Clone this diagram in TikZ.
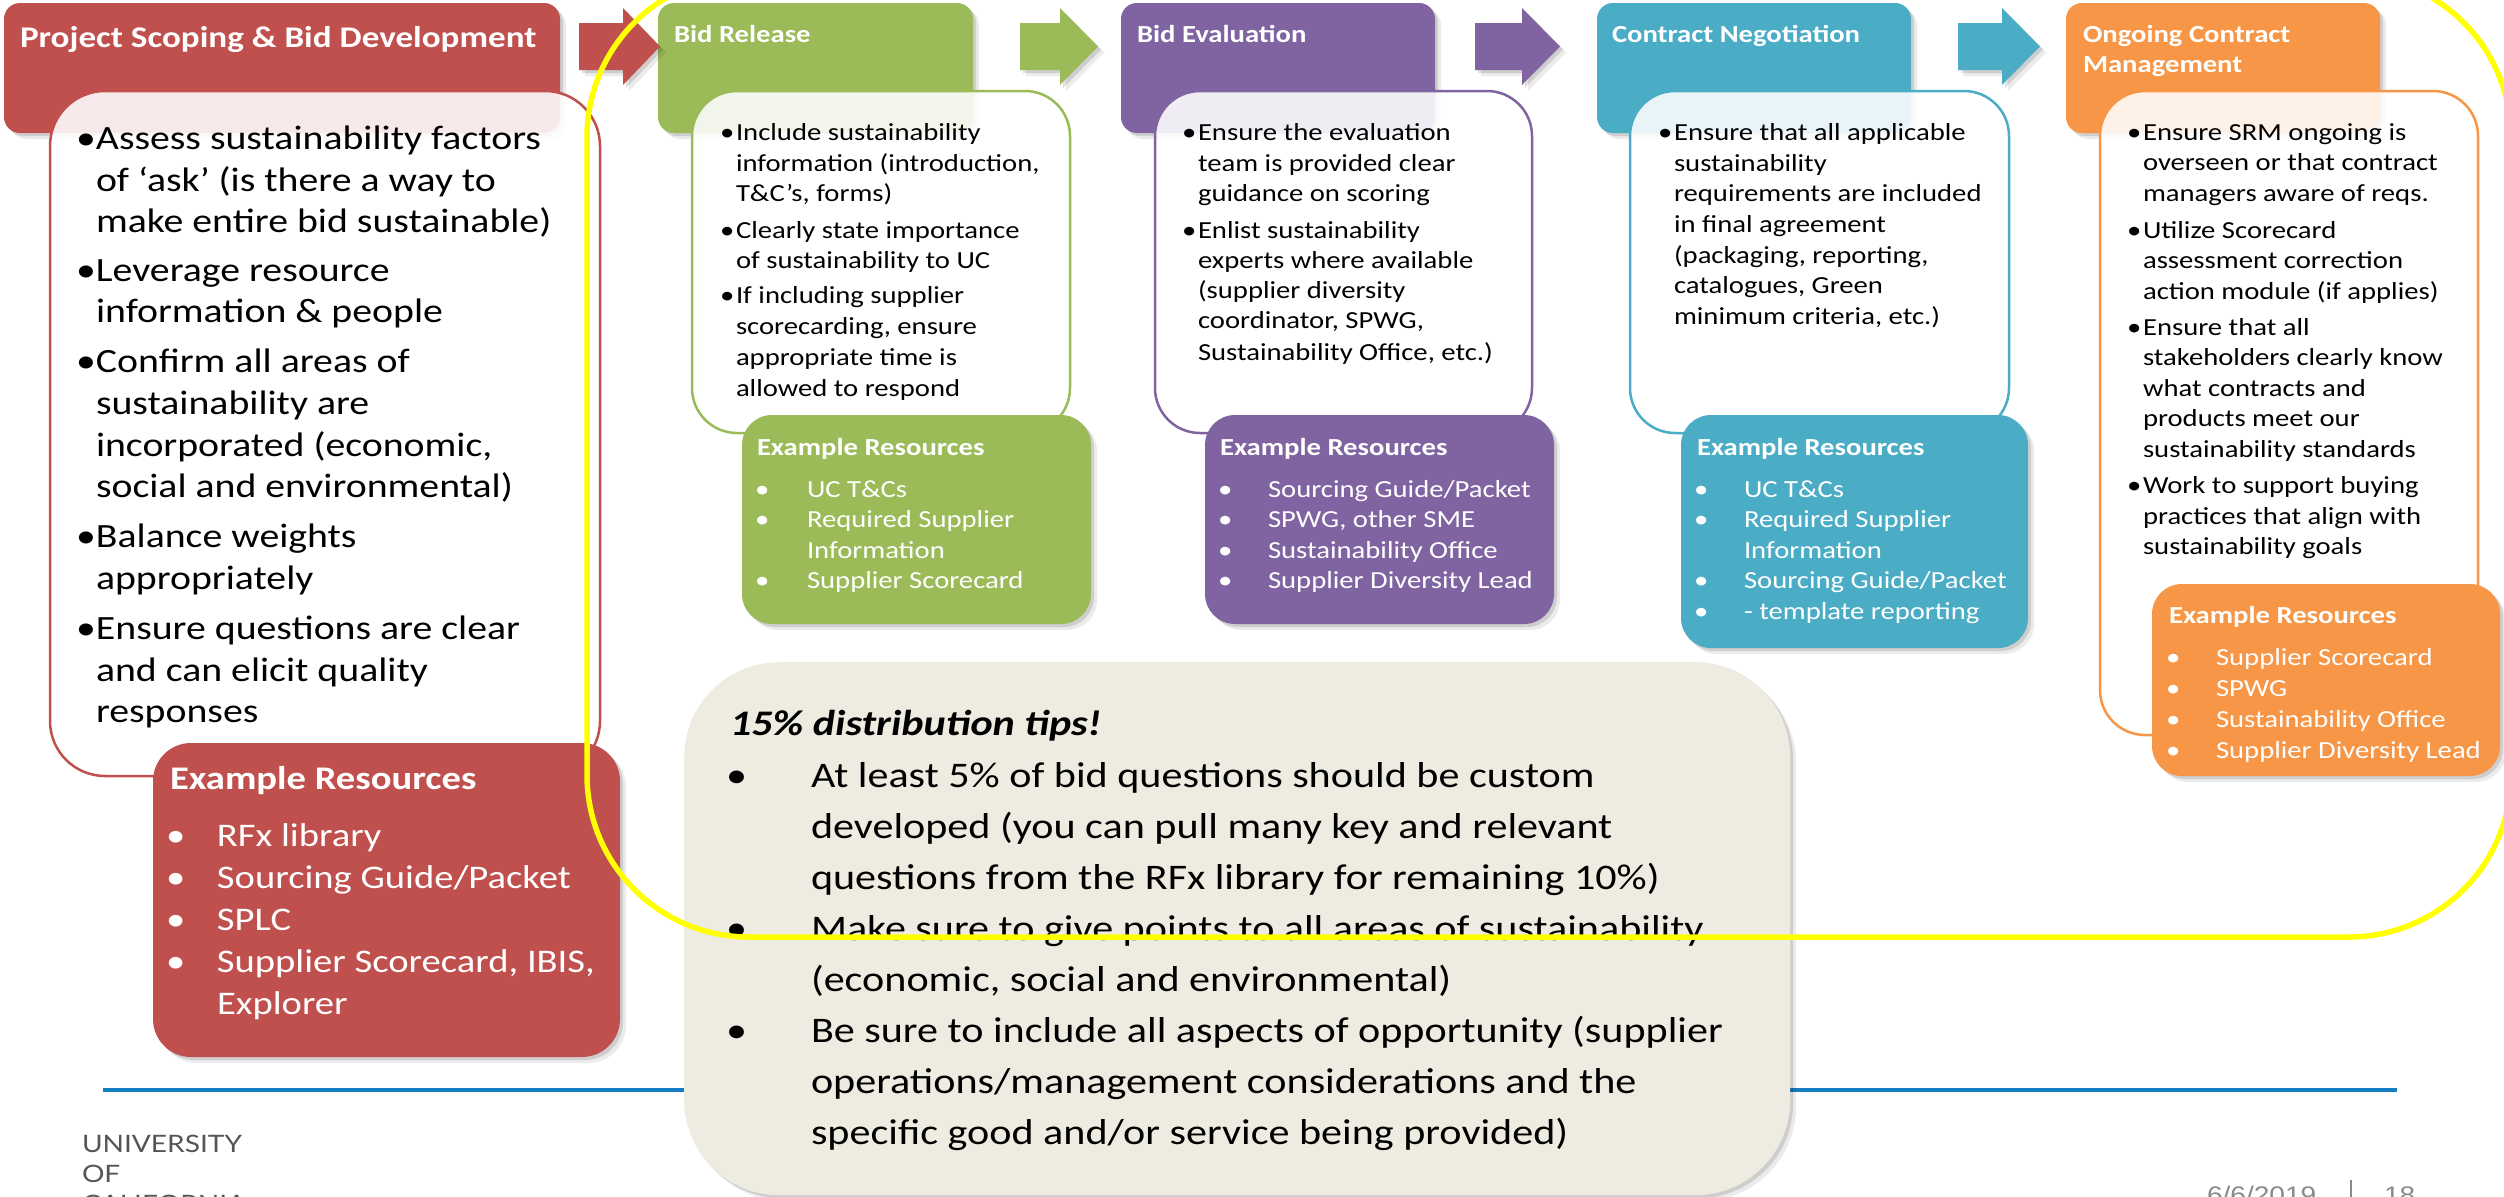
\documentclass[tikz,border=0pt]{standalone}
\usepackage{fontspec}
\setmainfont{Carlito}[FakeStretch=1.17]
\newfontfamily\latof{Lato}[FakeStretch=1.17]
\newfontfamily\arialf{Liberation Sans}[FakeStretch=1.17]
\definecolor{redc}{HTML}{C0504D}
\definecolor{grnc}{HTML}{9BBB59}
\definecolor{purc}{HTML}{8064A2}
\definecolor{tealc}{HTML}{4BACC6}
\definecolor{orgc}{HTML}{F79646}
\definecolor{beigec}{HTML}{EEECE1}
\definecolor{bluec}{HTML}{157DC4}
\definecolor{yelc}{HTML}{FFFF00}
\definecolor{footc}{HTML}{555555}
\definecolor{datec}{HTML}{8A8A8A}
\newlength\bw
\newcommand\Bl{\makebox[\bw][l]{•}}
\newcommand\Ct{\hspace*{\bw}}
\newcommand\fbig{\fontsize{34}{41}\selectfont}
\newcommand\fsm{\fontsize{24.5}{30.5}\selectfont}
\newcommand\fres{\fontsize{33}{42}\selectfont}
\newcommand\ftip{\fontsize{36}{51}\selectfont}
\newcommand\fhdr{\fontsize{30}{36}\selectfont\bfseries}
\newcommand\fhs{\fontsize{24.5}{30}\selectfont\bfseries}
\newcommand\bx[6]{\node[#2, minimum width={(#5)-(#3)}, minimum height={(#6)-(#4)}] (#1) at (#3,#4) {};}
\newcommand\tblock[5]{\global\bw=#4\relax\foreach[count=\k] \yy/\tx in {#5}{\node[txt,font=#3] (#1\k) at (#2,\yy) {\tx};}}
\begin{document}
\begin{tikzpicture}[x=1pt,y=-1pt,
  txt/.style={anchor=base west, inner sep=0pt, outer sep=0pt},
  softshadow/.style={preaction={fill=black,fill opacity=0.12,transform canvas={xshift=3pt,yshift=-3pt}},
                     preaction={fill=black,fill opacity=0.08,transform canvas={xshift=6pt,yshift=-6pt}}},
  hdr/.style={fill=#1, draw=none, rounded corners=16pt, softshadow, anchor=north west, inner sep=0pt, outer sep=0pt},
  cbox/.style={draw=#1, line width=2.5pt, fill=white, fill opacity=0.88, rounded corners=45pt, anchor=north west, inner sep=0pt, outer sep=0pt},
  rbox/.style={fill=#1, draw=none, rounded corners=30pt, softshadow, anchor=north west, inner sep=0pt, outer sep=0pt},
  arr/.style={fill=#1, softshadow}]
\useasboundingbox (0,0) rectangle (2504,1197);
\clip (0,0) rectangle (2504,1197);
\fill[white] (0,0) rectangle (2504,1197);

% headers
\bx{h1}{hdr=redc}{4}{3}{560}{133}
\bx{h2}{hdr=grnc}{658}{3}{973}{133}
\bx{h3}{hdr=purc}{1121}{3}{1435}{133}
\bx{h4}{hdr=tealc}{1597}{3}{1911}{133}
\bx{h5}{hdr=orgc}{2066}{3}{2380}{133}

% block arrows
\fill[arr=redc] (579,23) -- (623,23) -- (623,8) -- (660,46.5) -- (623,85) -- (623,70) -- (579,70) -- cycle;
\fill[arr=grnc] (1020,23) -- (1060,23) -- (1060,8) -- (1098,46.5) -- (1060,85) -- (1060,70) -- (1020,70) -- cycle;
\fill[arr=purc] (1475,23) -- (1522,23) -- (1522,8) -- (1560,46.5) -- (1522,85) -- (1522,70) -- (1475,70) -- cycle;
\fill[arr=tealc] (1958,23) -- (2002,23) -- (2002,8) -- (2040,46.5) -- (2002,85) -- (2002,70) -- (1958,70) -- cycle;

% header titles
\node[txt,font=\fhdr,text=white] (t1) at (20,47) {Project Scoping \& Bid Development};
\node[txt,font=\fhs,text=white] (t2) at (674,42) {Bid Release};
\node[txt,font=\fhs,text=white] (t3) at (1137,42) {Bid Evaluation};
\node[txt,font=\fhs,text=white] (t4) at (1612,42) {Contract Negotiation};
\node[txt,font=\fhs,text=white] (t5) at (2083,42) {Ongoing Contract};
\node[txt,font=\fhs,text=white] (t5b) at (2083,72) {Management};

% content boxes
\bx{c1}{cbox=redc,rounded corners=55pt}{50}{91}{600}{776}
\bx{c2}{cbox=grnc}{692}{91}{1070}{433}
\bx{c3}{cbox=purc}{1155}{91}{1532}{433}
\bx{c4}{cbox=tealc}{1630}{91}{2009}{433}
\bx{c5}{cbox=orgc}{2100}{91}{2478}{735}

% resource boxes
\bx{r1}{rbox=redc,rounded corners=38pt}{153}{743}{620}{1057}
\bx{r2}{rbox=grnc}{742}{415}{1091}{624}
\bx{r3}{rbox=purc}{1205}{415}{1554}{624}
\bx{r4}{rbox=tealc}{1681}{415}{2028}{648}
\bx{r5}{rbox=orgc}{2152}{584}{2500}{776}

% blue rule
\coordinate (bl1) at (103,1090);
\coordinate (bl2) at (2397,1090);
\draw[bluec, line width=4pt] (bl1) -- (bl2);

% tips box
\bx{tips}{fill=beigec, draw=none, rounded corners=95pt, softshadow, anchor=north west, inner sep=0pt}{684}{662}{1790}{1195}

% content texts
\tblock{ca}{76}{\fbig}{20pt}{
149/{\Bl Assess sustainability factors},
191/{\Ct of ‘ask’ (is there a way to},
232/{\Ct make entire bid sustainable)},
281/{\Bl Leverage resource},
322/{\Ct information \& people},
372/{\Bl Confirm all areas of},
414/{\Ct sustainability are},
456/{\Ct incorporated (economic,},
497/{\Ct social and environmental)},
547/{\Bl Balance weights},
589/{\Ct appropriately},
639/{\Bl Ensure questions are clear},
681/{\Ct and can elicit quality},
722/{\Ct responses}}

\tblock{cb}{720}{\fsm}{16pt}{
140/{\Bl Include sustainability},
171/{\Ct information (introduction,},
201/{\Ct T\&C’s, forms)},
238.5/{\Bl Clearly state importance},
268.5/{\Ct of sustainability to UC},
303.5/{\Bl If including supplier},
334.5/{\Ct scorecarding, ensure},
365/{\Ct appropriate time is},
396/{\Ct allowed to respond}}

\tblock{cc}{1182}{\fsm}{16pt}{
140/{\Bl Ensure the evaluation},
171/{\Ct team is provided clear},
201/{\Ct guidance on scoring},
238.5/{\Bl Enlist sustainability},
268.5/{\Ct experts where available},
298.5/{\Ct (supplier diversity},
328.5/{\Ct coordinator, SPWG,},
360/{\Ct Sustainability Office, etc.)}}

\tblock{cd}{1658}{\fsm}{16pt}{
140/{\Bl Ensure that all applicable},
171/{\Ct sustainability},
201/{\Ct requirements are included},
232.5/{\Ct in final agreement},
263.5/{\Ct (packaging, reporting,},
293.5/{\Ct catalogues, Green},
324.5/{\Ct minimum criteria, etc.)}}

\tblock{ce}{2127}{\fsm}{16pt}{
140/{\Bl Ensure SRM ongoing is},
170.5/{\Ct overseen or that contract},
201/{\Ct managers aware of reqs.},
238/{\Bl Utilize Scorecard},
268.5/{\Ct assessment correction},
299/{\Ct action module (if applies)},
335/{\Bl Ensure that all},
365.5/{\Ct stakeholders clearly know},
396/{\Ct what contracts and},
426.5/{\Ct products meet our},
457/{\Ct sustainability standards},
493.5/{\Bl Work to support buying},
524/{\Ct practices that align with},
554.5/{\Ct sustainability goals}}

% resource texts
\node[txt,font=\fres\bfseries,text=white] (ra0) at (170,789) {Example Resources};
\tblock{ra}{166}{\fres\color{white}}{51pt}{
846/{\Bl RFx library},
888/{\Bl Sourcing Guide/Packet},
930/{\Bl SPLC},
972/{\Bl Supplier Scorecard, IBIS,},
1014/{\Ct Explorer}}

\node[txt,font=\fhs,text=white] (rb0) at (757,455) {Example Resources};
\tblock{rb}{755}{\fsm\color{white}}{52pt}{
497/{\Bl UC T\&Cs},
527.5/{\Bl Required Supplier},
558/{\Ct Information},
588.5/{\Bl Supplier Scorecard}}

\node[txt,font=\fhs,text=white] (rc0) at (1220,455) {Example Resources};
\tblock{rc}{1218}{\fsm\color{white}}{50pt}{
497/{\Bl Sourcing Guide/Packet},
527.5/{\Bl SPWG, other SME},
558/{\Bl Sustainability Office},
588.5/{\Bl Supplier Diversity Lead}}

\node[txt,font=\fhs,text=white] (rd0) at (1697,455) {Example Resources};
\tblock{rd}{1694}{\fsm\color{white}}{50pt}{
497/{\Bl UC T\&Cs},
527.5/{\Bl Required Supplier},
558/{\Ct Information},
588.5/{\Bl Sourcing Guide/Packet},
619/{\Bl - template reporting}}

\node[txt,font=\fhs,text=white] (re0) at (2169,623) {Example Resources};
\tblock{re}{2166}{\fsm\color{white}}{50pt}{
665/{\Bl Supplier Scorecard},
696/{\Bl SPWG},
727/{\Bl Sustainability Office},
758/{\Bl Supplier Diversity Lead}}

% tips text
\node[txt,font=\ftip\bfseries\itshape] (tp0) at (730,735) {15\% distribution tips!};
\tblock{tp}{726}{\ftip}{85pt}{
787/{\Bl At least 5\% of bid questions should be custom},
838/{\Ct developed (you can pull many key and relevant},
889/{\Ct questions from the RFx library for remaining 10\%)},
940/{\Bl Make sure to give points to all areas of sustainability},
991/{\Ct (economic, social and environmental)},
1042/{\Bl Be sure to include all aspects of opportunity (supplier},
1093/{\Ct operations/management considerations and the},
1144/{\Ct specific good and/or service being provided)}}

% yellow outline
\draw[yelc, line width=5.5pt, rounded corners=162pt] (587,-25) rectangle (2511,937);

% footer
\node[txt,font=\latof\fontsize{24}{30}\selectfont,text=footc] (f1) at (82,1152) {UNIVERSITY};
\node[txt,font=\latof\fontsize{24}{30}\selectfont,text=footc] (f2) at (82,1182) {OF};
\node[txt,font=\latof\fontsize{24}{30}\selectfont,text=footc] (f3) at (82,1212) {CALIFORNIA};
\node[txt,font=\arialf\fontsize{24}{30}\selectfont,text=datec] (d1) at (2207,1203) {6/6/2019};
\node[txt,font=\arialf\fontsize{24}{30}\selectfont,text=datec] (d2) at (2384,1203) {18};
\coordinate (s1) at (2351,1180);
\coordinate (s2) at (2351,1200);
\draw[datec, line width=2pt] (s1) -- (s2);
\end{tikzpicture}
\end{document}
